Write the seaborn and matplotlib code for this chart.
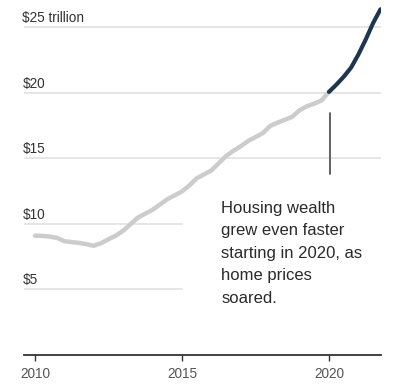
import numpy as np
import pandas as pd
import matplotlib
matplotlib.use("Agg")
import matplotlib.pyplot as plt
import matplotlib.transforms as mtransforms
import seaborn as sns

# quarterly housing wealth, trillions of dollars
years = [2010.0, 2010.25, 2010.5, 2010.75, 2011.0, 2011.25, 2011.5, 2011.75,
         2012.0, 2012.25, 2012.5, 2012.75, 2013.0, 2013.25, 2013.5, 2013.75,
         2014.0, 2014.25, 2014.5, 2014.75, 2015.0, 2015.25, 2015.5, 2015.75,
         2016.0, 2016.25, 2016.5, 2016.75, 2017.0, 2017.25, 2017.5, 2017.75,
         2018.0, 2018.25, 2018.5, 2018.75, 2019.0, 2019.25, 2019.5, 2019.75,
         2020.0, 2020.25, 2020.5, 2020.75, 2021.0, 2021.25, 2021.5, 2021.75]
wealth = [9.07, 9.05, 9.0, 8.9, 8.65, 8.58, 8.52, 8.42,
          8.3, 8.5, 8.8, 9.08, 9.45, 9.95, 10.45, 10.75,
          11.05, 11.45, 11.85, 12.15, 12.45, 12.9, 13.45, 13.75,
          14.05, 14.6, 15.15, 15.55, 15.9, 16.3, 16.6, 16.9,
          17.45, 17.7, 17.92, 18.15, 18.65, 18.95, 19.15, 19.4,
          20.05, 20.6, 21.2, 21.9, 22.9, 24.05, 25.3, 26.35]
ytick_vals = [5, 10, 15, 20, 25]
ytick_labels = ["$5", "$10", "$15", "$20", "$25 trillion"]
xtick_vals = [2010, 2015, 2020]
note = "Housing wealth\ngrew even faster\nstarting in 2020, as\nhome prices\nsoared."

df = pd.DataFrame({"year": years, "wealth": wealth})
before = df[df["year"] <= 2020]
after = df[df["year"] >= 2020]

sns.set_style("white")
plt.rcParams["font.family"] = ["Liberation Sans", "DejaVu Sans"]

fig = plt.figure(figsize=(4.04, 3.87), dpi=100)
ax = fig.add_axes([24 / 404, 32.5 / 387, 357 / 404, 349.5 / 387])
ax.set_xlim(2009.626, 2021.769)
ax.set_ylim(0, 26.68)

# gridlines (lower ones stop where the note begins)
for v in ytick_vals:
    xmax = 1.0 if v >= 15 else (2015 - 2009.626) / (2021.769 - 2009.626)
    ax.axhline(v, xmin=0, xmax=xmax, color="#e2e2e2", lw=1.2, zorder=0)

sns.lineplot(data=before, x="year", y="wealth", ax=ax, color="#cccccc",
             lw=3.2, solid_capstyle="round")
sns.lineplot(data=after, x="year", y="wealth", ax=ax, color="#1e3550",
             lw=3.0, solid_capstyle="round")

# y labels sit above the gridlines
trans = mtransforms.blended_transform_factory(ax.transAxes, ax.transData)
for v, lab in zip(ytick_vals, ytick_labels):
    ax.text(-1.7 / 357, v + 0.36, lab, transform=trans, ha="left", va="baseline",
            fontsize=9.8, color="#333333")

# annotation
ax.plot([2020.03, 2020.03], [13.78, 18.43], color="#555555", lw=1.3)
ax.text(2016.33, 11.75, note, ha="left", va="top", fontsize=12,
        color="#2a2a2a", linespacing=1.63)

ax.set_yticks([])
ax.set_xticks(xtick_vals)
ax.set_xticklabels([str(x) for x in xtick_vals], fontsize=9.8, color="#555555")
ax.tick_params(axis="x", bottom=True, length=4, width=1, color="#333333",
               direction="out", pad=5)
ax.set_xlabel("")
ax.set_ylabel("")
for s in ["top", "right", "left"]:
    ax.spines[s].set_visible(False)
ax.spines["bottom"].set_color("#333333")
ax.spines["bottom"].set_linewidth(1.3)

fig.savefig("out.png", dpi=100)
